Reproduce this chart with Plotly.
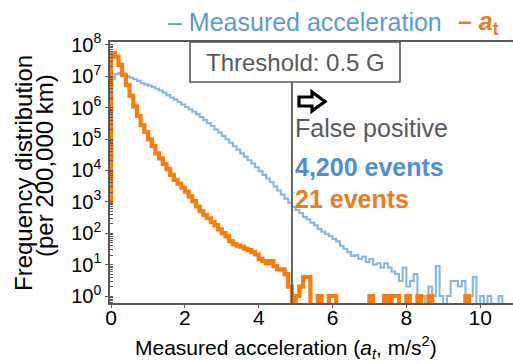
import numpy as np
import plotly.graph_objects as go

# ---------------- data ----------------
BIN_WIDTH = 0.1
BIN_START = -0.1   # left edge of first bin (m/s^2)

# Measured acceleration histogram (counts per 200,000 km), bins of 0.1 m/s^2
measured_counts = [
    3.0e6, 8.0e6, 1.15e7, 1.26e7, 1.2e7, 1.0e7, 9.0e6, 8.0e6, 7.1e6, 6.0e6,
    5.5e6, 5.0e6, 4.5e6, 4.0e6, 3.5e6, 3.0e6, 2.5e6, 2.1e6, 1.8e6, 1.5e6,
    1.26e6, 1.05e6, 8.9e5, 7.4e5, 6.2e5, 5.0e5, 4.0e5, 3.2e5, 2.6e5, 2.0e5,
    1.6e5, 1.26e5, 9.8e4, 7.6e4, 5.9e4, 4.6e4, 3.5e4, 2.75e4, 2.1e4, 1.66e4,
    1.26e4, 9.5e3, 7.2e3, 5.5e3, 4.2e3, 3.1e3, 2.3e3, 1.7e3, 1.26e3, 930,
    690, 550, 440, 330, 275, 215, 178, 135, 112, 95,
    80, 66, 55, 40, 32, 25, 19, 20, 15, 18,
    12, 15, 10, 11, 8, 11, 8, 6, 5, 3,
    8, 2, 3, 5, 1, 1, 0, 2, 1, 9,
    1, 0, 1, 3, 3, 2, 3, 0, 1, 4,
    0, 1, 0, 1, 0, 0, 1, 0,
]

# a_t histogram (counts per 200,000 km), same bins
at_counts = [
    1000, 5.5e7, 4.2e7, 2.3e7, 1.1e7, 5.2e6, 2.4e6, 1.1e6, 5.4e5, 2.8e5,
    1.7e5, 9.8e4, 5.9e4, 3.5e4, 2.4e4, 1.6e4, 1.1e4, 7200, 5000, 3800,
    2800, 2100, 1500, 1050, 710, 500, 380, 300, 224, 182,
    132, 100, 79, 56, 45, 40, 37, 32, 29, 25,
    21, 15, 13, 11, 13, 9, 7, 7, 5, 2,
    0, 1, 2, 4, 4, 0, 0, 1, 0, 0,
    1, 1, 0, 0, 0, 0, 0, 0, 0, 0,
    0, 1, 0, 0, 0, 1, 0, 1, 1, 0,
    0, 1, 0, 0, 1, 0, 0, 1, 0, 0,
    0, 0, 0, 0, 0, 0, 0, 1, 0,
]

THRESHOLD = 4.9  # 0.5 G in m/s^2
y_tick_vals = [1, 10, 100, 1e3, 1e4, 1e5, 1e6, 1e7, 1e8]
y_tick_text = ["10<sup>%d</sup>" % i for i in range(9)]
x_tick_vals = [0, 2, 4, 6, 8, 10]

# ---------------- styling ----------------
FONT = "Liberation Sans, Arial, sans-serif"
BLUE_LINE = "#86B7DE"
BLUE_TEXT = "#5B9BD5"
BLUE_BOLD = "#4F8FD6"
ORANGE_LINE = "#FA7D0A"
ORANGE_TEXT = "#EE7A22"
GRAY = "#595959"
W, H = 513, 364
ML, MR, MT, MB = 110, 0, 42, 61
PW, PH = W - ML - MR, H - MT - MB


def px2paper(px, py):
    return (px - ML) / PW, (H - MB - py) / PH


def edges(n):
    return [BIN_START + i * BIN_WIDTH for i in range(n)]


def plot_vals(counts):
    # empty bins drop below the axis on a log scale
    return [c if c > 0 else 0.1 for c in counts]


fig = go.Figure()
fig.add_trace(go.Scatter(
    x=edges(len(measured_counts)), y=plot_vals(measured_counts),
    mode="lines", line=dict(color=BLUE_LINE, width=2.1, shape="hv"),
    showlegend=False, hoverinfo="skip"))
fig.add_trace(go.Scatter(
    x=edges(len(at_counts)), y=plot_vals(at_counts),
    mode="lines", line=dict(color=ORANGE_LINE, width=4.2, shape="hv"),
    showlegend=False, hoverinfo="skip"))

shapes = []
# threshold box
bx0, by0 = px2paper(190, 82)
bx1, by1 = px2paper(400, 42)
shapes.append(dict(type="rect", xref="paper", yref="paper", x0=bx0, x1=bx1,
                   y0=by0, y1=by1, line=dict(color=GRAY, width=1.6),
                   fillcolor="white", layer="above"))
# threshold line
shapes.append(dict(type="line", xref="x", yref="paper", x0=THRESHOLD, x1=THRESHOLD,
                   y0=0, y1=by0, line=dict(color=GRAY, width=1.8)))
# outlined arrow
arrow_px = [(299, 97), (312, 97), (312, 92), (325, 101.5), (312, 111), (312, 106), (299, 106)]
pts = [px2paper(a, b) for a, b in arrow_px]
path = "M " + " L ".join("%.5f,%.5f" % p for p in pts) + " Z"
shapes.append(dict(type="path", xref="paper", yref="paper", path=path,
                   line=dict(color="black", width=3.2), fillcolor="white"))

annotations = []


def add_text(text, px, py, color, size, xanchor="left", angle=0):
    x, y = px2paper(px, py)
    annotations.append(dict(text=text, x=x, y=y, xref="paper", yref="paper",
                            xanchor=xanchor, yanchor="middle", showarrow=False,
                            textangle=angle,
                            font=dict(family=FONT, size=size, color=color)))


add_text("Threshold: 0.5 G", 295, 62, GRAY, 24, xanchor="center")
add_text("False positive", 293, 128, GRAY, 25)
add_text("<b>4,200 events</b>", 293, 167, BLUE_BOLD, 25)
add_text("<b>21 events</b>", 293, 199, ORANGE_TEXT, 25)
# legend
add_text("– Measured acceleration", 166, 22, BLUE_TEXT, 25)
add_text("<b>– <i>a</i><sub>t</sub></b>", 456, 23, ORANGE_TEXT, 25)
# axis titles
add_text("Measured acceleration (<i>a<sub>t</sub></i>, m/s<sup>2</sup>)", 286, 347, "black", 21,
         xanchor="center")
add_text("Frequency distribution", 23, 173, "black", 24, xanchor="center", angle=-90)
add_text("(per 200,000 km)", 44, 166, "black", 24, xanchor="center", angle=-90)

fig.update_layout(
    width=W, height=H,
    margin=dict(l=ML, r=MR, t=MT, b=MB, pad=0),
    paper_bgcolor="white", plot_bgcolor="white",
    font=dict(family=FONT, size=19, color="black"),
    shapes=shapes, annotations=annotations,
    xaxis=dict(range=[-0.03, 10.89], tickvals=x_tick_vals, showgrid=False, zeroline=False,
               showline=True, linecolor=GRAY, linewidth=1.5, mirror=True,
               ticks="outside", ticklen=3, tickcolor=GRAY, ticklabelstandoff=-8,
               tickfont=dict(size=21, color="black", family=FONT)),
    yaxis=dict(type="log", range=[-0.223, 8.09], tickvals=y_tick_vals, ticktext=y_tick_text,
               showgrid=False, zeroline=False, showline=True, linecolor=GRAY, linewidth=1.5,
               ticks="outside", ticklen=3, tickcolor=GRAY,
               minor=dict(ticks="inside", ticklen=3, tickcolor=GRAY, showgrid=False, dtick="D1"),
               tickfont=dict(size=20, color="black", family=FONT)),
)

fig.write_html("out.html")
